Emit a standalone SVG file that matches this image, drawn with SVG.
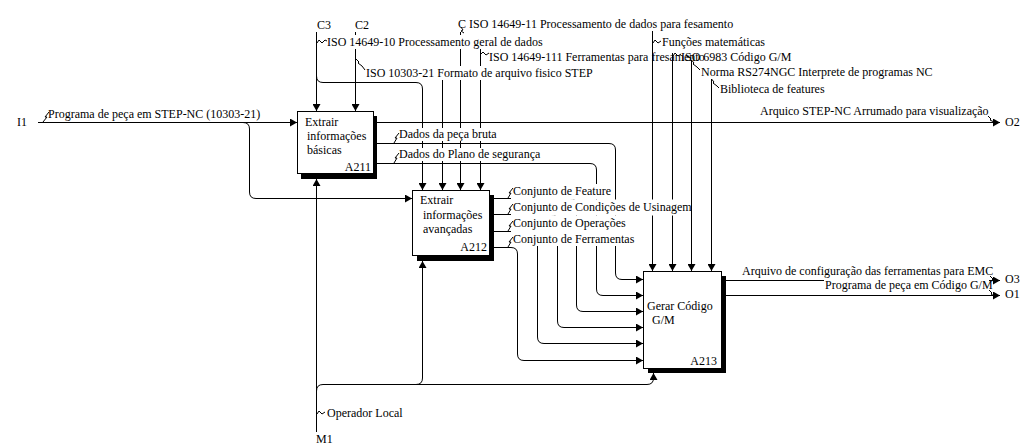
<svg xmlns="http://www.w3.org/2000/svg" width="1020" height="446" viewBox="0 0 1020 446">
<defs>
<marker id="ah" markerWidth="7" markerHeight="8" refX="7" refY="4" orient="auto" markerUnits="userSpaceOnUse"><path d="M0,0 L7,4 L0,8 z" fill="#000"/></marker>
<style>
text{font-family:"Liberation Serif","Times New Roman",serif;font-size:12px;fill:#000}
.c{fill:none;stroke:#000;stroke-width:1}
.a{marker-end:url(#ah)}
.sq{fill:none;stroke:#000;stroke-width:1}
.bg{fill:#fff}
.box{fill:#fff;stroke:#000;stroke-width:1}
.sh{fill:#000}
.r{text-anchor:end}
</style>
</defs>
<rect width="1020" height="446" fill="#fff"/>
<g id="connectors">
<path class="c a" d="M316.5,32 V111"/>
<path class="c a" d="M316.5,76 Q316.5,82.5 323,82.5 H416 Q422.5,82.5 422.5,89 V190"/>
<path class="c a" d="M355.5,32 V111"/>
<path class="c a" d="M442.5,80 V190"/>
<path class="c a" d="M460.5,32 V190"/>
<path class="c a" d="M480.5,48 V190"/>
<path class="c a" d="M652.5,31 V271"/>
<path class="c a" d="M672.5,53 V271"/>
<path class="c a" d="M691.5,60 V271"/>
<path class="c a" d="M711.5,79 V271"/>
<path class="c a" d="M38,122.5 H297"/>
<path class="c a" d="M243,122.5 Q249.5,122.5 249.5,129 V192 Q249.5,198.5 256,198.5 H412"/>
<path class="c a" d="M374,122.5 H1000"/>
<path class="c a" d="M374,143.5 H609 Q615.5,143.5 615.5,150 V273 Q615.5,279.5 622,279.5 H643"/>
<path class="c a" d="M374,163.5 H590 Q596.5,163.5 596.5,170 V289 Q596.5,295.5 603,295.5 H643"/>
<path class="c a" d="M490,198.5 H570 Q576.5,198.5 576.5,205 V305 Q576.5,311.5 583,311.5 H643"/>
<path class="c a" d="M490,214.5 H551 Q557.5,214.5 557.5,221 V321 Q557.5,327.5 564,327.5 H643"/>
<path class="c a" d="M490,231.5 H531 Q537.5,231.5 537.5,238 V337 Q537.5,343.5 544,343.5 H643"/>
<path class="c a" d="M490,247.5 H511 Q517.5,247.5 517.5,254 V354 Q517.5,360.5 524,360.5 H643"/>
<path class="c a" d="M722,280.5 H1000"/>
<path class="c a" d="M722,295.5 H1000"/>
<path class="c a" d="M316.5,432 V179"/>
<path class="c a" d="M316.5,391 Q316.5,384.5 323,384.5 H647 Q653.5,384.5 653.5,378 V373"/>
<path class="c a" d="M416,384.5 Q422.5,384.5 422.5,378 V261"/>
</g>
<g id="labels">
<text x="17" y="126">I1</text>
<text x="317" y="29">C3</text>
<text x="355" y="29">C2</text>
<text x="458" y="28">C</text>
<text x="316" y="443">M1</text>
<text x="1005" y="126">O2</text>
<text x="1005" y="283">O3</text>
<text x="1005" y="298">O1</text>

<rect class="bg" x="47" y="107" width="212" height="14"/>
<text x="48" y="118">Programa de peça em STEP-NC (10303-21)</text>
<path class="sq" d="M43,122 L47,117 L45,117 L49,112"/>

<rect class="bg" x="326" y="35" width="216" height="14"/>
<text x="327" y="46">ISO 14649-10 Processamento geral de dados</text>
<path class="sq" d="M317,43 L319,40 L322,43 L325,40 L327,41"/>

<rect class="bg" x="365" y="66" width="224" height="14"/>
<text x="366" y="77">ISO 10303-21 Formato de arquivo fisico STEP</text>
<path class="sq" d="M356,59 L359,62 L358,63 L362,66 L365,70"/>

<rect class="bg" x="467" y="17" width="268" height="14"/>
<text x="469" y="28">ISO 14649-11 Processamento de dados para fesamento</text>
<path class="sq" d="M461,27 L463,30 L461,31 L464,33"/>

<text x="489" y="61">ISO 14649-111 Ferramentas para fresamento</text>
<path class="sq" d="M481,54 L483,52 L486,55 L489,53"/>

<rect class="bg" x="661" y="35" width="104" height="14"/>
<text x="662" y="46">Funções matemáticas</text>
<path class="sq" d="M653,43 L655,40 L658,43 L661,41"/>

<text x="681" y="61">ISO 6983 Código G/M</text>
<path class="sq" d="M673,56 L675,53 L678,56 L681,54"/>

<rect class="bg" x="700" y="66" width="233" height="13"/>
<text x="701" y="76">Norma RS274NGC Interprete de programas NC</text>
<path class="sq" d="M691.5,60 L694,63 L693,64 L697,67 L700,70"/>

<rect class="bg" x="719" y="83" width="105" height="13"/>
<text x="720" y="93">Biblioteca de features</text>
<path class="sq" d="M711.5,79 L714,82 L713,83 L717,86 L719,88"/>

<rect class="bg" x="759" y="104" width="229" height="14"/>
<text x="760" y="115">Arquico STEP-NC Arrumado para visualização</text>
<path class="sq" d="M988,116 L991,119 L990,120 L994,122"/>

<rect class="bg" x="398" y="128" width="98" height="13"/>
<text x="399" y="138">Dados da peça bruta</text>
<path class="sq" d="M394,143 L397,138 L395,138 L399,133"/>

<rect class="bg" x="398" y="148" width="158" height="13"/>
<text x="399" y="158">Dados do Plano de segurança</text>
<path class="sq" d="M394,163 L397,158 L395,158 L399,153"/>

<rect class="bg" x="511" y="184" width="100" height="15.5"/>
<text x="513" y="195">Conjunto de Feature</text>
<path class="sq" d="M508,198 L511,193 L509,193 L513,188"/>

<rect class="bg" x="511" y="199.5" width="178" height="16"/>
<text x="513" y="211">Conjunto de Condições de Usinagem</text>
<path class="sq" d="M508,214 L511,209 L509,209 L513,204"/>

<rect class="bg" x="511" y="215.5" width="115" height="16.5"/>
<text x="513" y="227">Conjunto de Operações</text>
<path class="sq" d="M508,231 L511,226 L509,226 L513,221"/>

<rect class="bg" x="511" y="232" width="123" height="14"/>
<text x="513" y="243">Conjunto de Ferramentas</text>
<path class="sq" d="M508,247 L511,242 L509,242 L513,237"/>

<rect class="bg" x="741" y="264" width="249" height="14"/>
<text x="742" y="275">Arquivo de configuração das ferramentas para EMC</text>
<path class="sq" d="M990,276 L993,279 L992,280 L995,282"/>

<rect class="bg" x="824" y="278" width="165" height="14"/>
<text x="825" y="289">Programa de peça em Código G/M</text>
<path class="sq" d="M989,290 L992,293 L991,294 L994,296"/>

<rect class="bg" x="326" y="406" width="75" height="14"/>
<text x="327" y="417">Operador Local</text>
<path class="sq" d="M317,414 L319,411 L322,414 L325,412"/>
</g>
<g id="A211">
<rect class="sh" x="301" y="116" width="76" height="63"/>
<rect class="box" x="297.5" y="111.5" width="76" height="62"/>
<text x="305" y="126">Extrair</text>
<text x="307" y="140">informações</text>
<text x="307" y="154">básicas</text>
<text class="r" x="371" y="171">A211</text>
</g>
<g id="A212">
<rect class="sh" x="417" y="195" width="77" height="66"/>
<rect class="box" x="412.5" y="190.5" width="77" height="65"/>
<text x="420" y="204">Extrair</text>
<text x="423" y="219">informações</text>
<text x="423" y="233">avançadas</text>
<text class="r" x="487" y="251">A212</text>
</g>
<g id="A213">
<rect class="sh" x="648" y="276" width="78" height="97"/>
<rect class="box" x="643.5" y="271.5" width="78" height="97"/>
<text x="647" y="310">Gerar Código</text>
<text x="652" y="324">G/M</text>
<text class="r" x="717" y="365">A213</text>
</g>
</svg>
